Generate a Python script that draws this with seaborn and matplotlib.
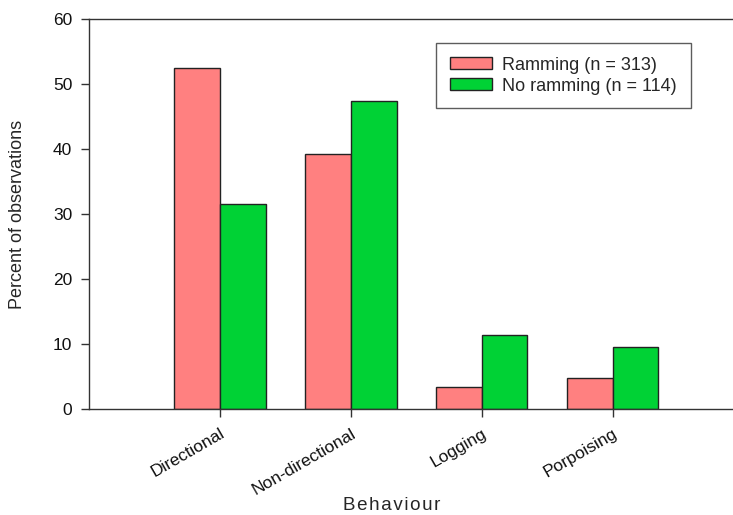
import matplotlib
matplotlib.use("Agg")
import matplotlib.pyplot as plt
import seaborn as sns
import pandas as pd

categories = ["Directional", "Non-directional", "Logging", "Porpoising"]
ramming = [52.4, 39.3, 3.4, 4.8]
no_ramming = [31.6, 47.4, 11.4, 9.6]
series_names = ["Ramming (n = 313)", "No ramming (n = 114)"]
colors = ["#FF8080", "#00D235"]
yticks = [0, 10, 20, 30, 40, 50, 60]

sns.set_theme(style="white")
plt.rcParams['font.family'] = ['Liberation Sans', 'DejaVu Sans']

df = pd.DataFrame({
    "Behaviour": categories * 2,
    "Percent": ramming + no_ramming,
    "Group": [series_names[0]] * 4 + [series_names[1]] * 4,
})

fig = plt.figure(figsize=(7.33, 5.15), dpi=100)
ax = fig.add_axes([89/733, 1 - 409/515, 1 - 89/733, (409 - 19)/515])

sns.barplot(data=df, x="Behaviour", y="Percent", hue="Group", order=categories,
            hue_order=series_names, palette=colors, width=0.7, edgecolor="#222222",
            linewidth=1.0, saturation=1, ax=ax)

ax.set_xlim(-1.0, 3.92)
ax.set_ylim(0, 60)
ax.set_yticks(yticks)
ax.set_yticklabels([str(v) for v in yticks], fontsize=12.5)
ax.set_xticks(range(len(categories)))
ax.set_xticklabels(categories, rotation=30, ha="right", rotation_mode="anchor", fontsize=12.5)

ax.spines["right"].set_visible(False)
for side in ["left", "bottom", "top"]:
    ax.spines[side].set_visible(True)
    ax.spines[side].set_color("#333333")
    ax.spines[side].set_linewidth(1.0)

ax.tick_params(axis="both", direction="out", length=6, width=1, color="#333333",
               left=True, bottom=True, labelcolor="#111111")
ax.tick_params(axis="x", pad=6)
ax.tick_params(axis="y", pad=6)

ax.set_ylabel("Percent of observations", fontsize=13)
ax.set_xlabel("\u200a".join("Behaviour"), fontsize=13.5)
ax.yaxis.set_label_coords(18/733 - 89/733, 0.5, transform=None) if False else None
ax.yaxis.label.set_position((0, 0.5))
fig.canvas.draw()
ax.yaxis.set_label_coords((18 - 89) / (733 - 89), (409 - 214) / 390)
ax.xaxis.set_label_coords((392 - 89) / (733 - 89), (409 - 505) / 390)
ax.xaxis.label.set_va("center")
ax.yaxis.label.set_va("center")

leg = ax.legend(loc="upper left", bbox_to_anchor=((436 - 89) / (733 - 89), (409 - 43) / 390),
                frameon=True, fancybox=False, edgecolor="#333333", fontsize=13,
                handlelength=2.33, handleheight=0.67, borderpad=0.75, labelspacing=0.22,
                handletextpad=0.6, borderaxespad=0)
leg.get_frame().set_linewidth(1.0)

fig.savefig("out.png", dpi=100)
